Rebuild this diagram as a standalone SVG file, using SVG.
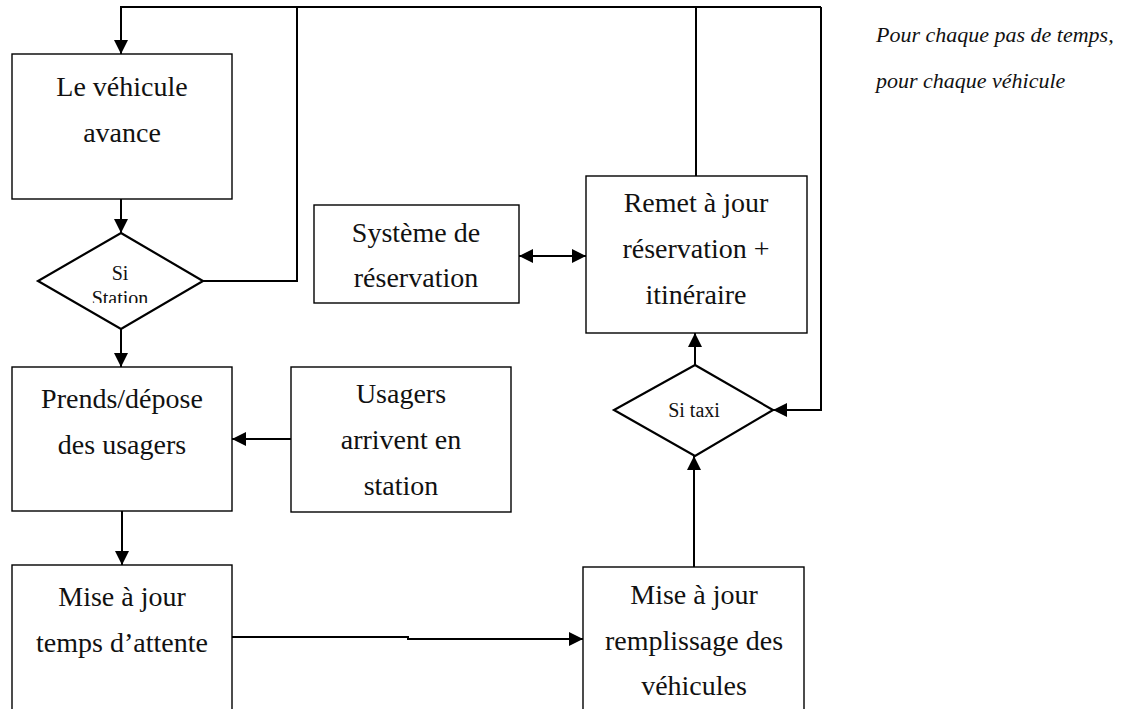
<svg xmlns="http://www.w3.org/2000/svg" width="1142" height="709" viewBox="0 0 1142 709">
<style>
.box{fill:#fff;stroke:#000;stroke-width:1.4}
.dia{fill:#fff;stroke:#000;stroke-width:2.2}
.t{font-family:"Liberation Serif","Times New Roman",serif;font-size:28px;fill:#111;text-anchor:middle}
.s{font-family:"Liberation Serif","Times New Roman",serif;font-size:20px;fill:#111;text-anchor:middle}
.it{font-family:"Liberation Serif","Times New Roman",serif;font-size:22px;font-style:italic;fill:#111}
.c{fill:none;stroke:#000;stroke-width:2}
</style>
<defs>
<marker id="ah" viewBox="0 0 14 14" refX="14" refY="7" markerWidth="14" markerHeight="14" markerUnits="userSpaceOnUse" orient="auto-start-reverse">
<path d="M0,0 L14,7 L0,14 z" fill="#000"/>
</marker>
<clipPath id="clipSt"><rect x="0" y="0" width="300" height="303"/></clipPath>
</defs>
<rect width="1142" height="709" fill="#fff"/>

<g id="connectors">
<path class="c" d="M821,7 L121,7 L121,54" marker-end="url(#ah)"/>
<path class="c" d="M297,7 L297,281 L203,281"/>
<path class="c" d="M696,7 L696,176"/>
<path class="c" d="M821,7 L821,410 L773,410" marker-end="url(#ah)"/>
<path class="c" d="M121,199 L121,233" marker-end="url(#ah)"/>
<path class="c" d="M121,329 L121,367" marker-end="url(#ah)"/>
<path class="c" d="M291,439 L232,439" marker-end="url(#ah)"/>
<path class="c" d="M122,511 L122,565" marker-end="url(#ah)"/>
<path class="c" d="M232,637 L408,637 L408,639 L583,639" marker-end="url(#ah)"/>
<path class="c" d="M694,567 L694,456" marker-end="url(#ah)"/>
<path class="c" d="M695,365 L695,333" marker-end="url(#ah)"/>
<path class="c" d="M519,256 L586,256" marker-start="url(#ah)" marker-end="url(#ah)"/>
</g>

<g id="n-avance">
<rect class="box" x="12" y="54" width="220" height="145"/>
<text class="t" x="122" y="96">Le véhicule</text>
<text class="t" x="122" y="142">avance</text>
</g>

<g id="n-si-station">
<polygon class="dia" points="121,233 203,281 121,329 38,281"/>
<text class="s" x="120" y="280">Si</text>
<text class="s" x="120" y="305" clip-path="url(#clipSt)">Station</text>
</g>

<g id="n-prends">
<rect class="box" x="12" y="367" width="220" height="144"/>
<text class="t" x="122" y="408">Prends/dépose</text>
<text class="t" x="122" y="454">des usagers</text>
</g>

<g id="n-usagers">
<rect class="box" x="291" y="367" width="220" height="145"/>
<text class="t" x="401" y="403">Usagers</text>
<text class="t" x="401" y="449">arrivent en</text>
<text class="t" x="401" y="495">station</text>
</g>

<g id="n-attente">
<rect class="box" x="12" y="565" width="220" height="160"/>
<text class="t" x="122" y="606">Mise à jour</text>
<text class="t" x="122" y="652">temps d’attente</text>
</g>

<g id="n-remplissage">
<rect class="box" x="583" y="567" width="221" height="160"/>
<text class="t" x="694" y="604">Mise à jour</text>
<text class="t" x="694" y="650">remplissage des</text>
<text class="t" x="694" y="695">véhicules</text>
</g>

<g id="n-si-taxi">
<polygon class="dia" points="695,365 773,410 695,456 614,410"/>
<text class="s" x="694" y="417">Si taxi</text>
</g>

<g id="n-remet">
<rect class="box" x="586" y="176" width="221" height="157"/>
<text class="t" x="696" y="212">Remet à jour</text>
<text class="t" x="696" y="258">réservation +</text>
<text class="t" x="696" y="304">itinéraire</text>
</g>

<g id="n-systeme">
<rect class="box" x="314" y="205" width="205" height="98"/>
<text class="t" x="416" y="242">Système de</text>
<text class="t" x="416" y="287">réservation</text>
</g>

<g id="n-note">
<text class="it" x="876" y="42">Pour chaque pas de temps,</text>
<text class="it" x="876" y="88">pour chaque véhicule</text>
</g>
</svg>
